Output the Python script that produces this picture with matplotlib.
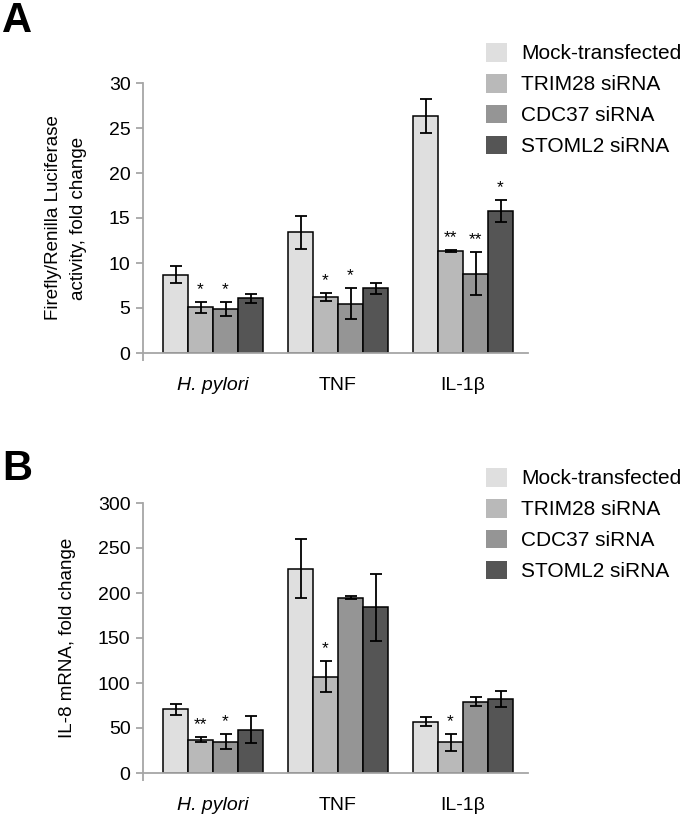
import matplotlib
matplotlib.use("Agg")
import matplotlib.pyplot as plt
from matplotlib.patches import Patch
import numpy as np

plt.rcParams['font.family'] = ['Liberation Sans', 'DejaVu Sans']

CATS = ["H. pylori", "TNF", "IL-1\u03b2"]
GROUPS = ["Mock-transfected", "TRIM28 siRNA", "CDC37 siRNA", "STOML2 siRNA"]
COLORS = ["#dfdfdf", "#b9b9b9", "#959595", "#555555"]

# panel A - luciferase fold change, rows = siRNA groups, cols = stimuli
A_VALS = [[8.7, 13.4, 26.3],
          [5.1, 6.2, 11.3],
          [4.9, 5.5, 8.8],
          [6.1, 7.2, 15.8]]
A_ERR = [[0.95, 1.8, 1.9],
         [0.6, 0.45, 0.1],
         [0.8, 1.7, 2.4],
         [0.5, 0.6, 1.2]]
A_STARS = [["", "", ""],
           ["*", "*", "**"],
           ["*", "*", "**"],
           ["", "", "*"]]

# panel B - IL-8 mRNA fold change
B_VALS = [[71, 227, 57],
          [37, 107, 34],
          [35, 195, 79],
          [48, 184, 82]]
B_ERR = [[6, 33, 5],
         [3, 17, 9],
         [8, 1.5, 5],
         [15, 37, 9]]
B_STARS = [["", "", ""],
           ["**", "*", "*"],
           ["*", "", ""],
           ["", "", ""]]

W, H = 682, 819
fig = plt.figure(figsize=(W/100, H/100), dpi=100)
AX_COL = "#a6a6a6"

def panel(rect, vals, errs, stars, ymax, ystep, ylabel, lab_x, letter, letter_y, leg_y):
    ax = fig.add_axes(rect)
    x = np.arange(len(CATS))
    bw = 0.2
    for i, g in enumerate(GROUPS):
        xs = x + (i - 1.5)*bw
        ax.bar(xs, vals[i], bw, color=COLORS[i], edgecolor='black', linewidth=1.1, zorder=2)
        ax.errorbar(xs, vals[i], yerr=errs[i], fmt='none', ecolor='black',
                    elinewidth=1.3, capsize=4, capthick=1.3, zorder=3)
        for xx, v, e, s in zip(xs, vals[i], errs[i], stars[i]):
            if s:
                ax.annotate(s, xy=(xx, v+e), xytext=(0, 9), textcoords='offset points',
                            ha='center', va='center', fontsize=12.5)
    ax.set_xlim(-0.56, 2.52)
    ax.set_ylim(0, ymax)
    ax.set_yticks(np.arange(0, ymax+1, ystep))
    ax.set_xticks(x)
    ax.set_xticklabels(CATS, fontsize=14)
    ax.get_xticklabels()[0].set_style('italic')
    ax.set_xticks([-0.56], minor=True)
    ax.tick_params(axis='x', which='major', length=0, pad=17)
    ax.tick_params(axis='x', which='minor', length=6, width=1.3, color=AX_COL)
    ax.tick_params(axis='y', labelsize=14, length=5, width=1.3, color=AX_COL, pad=4)
    for sp in ['top', 'right']:
        ax.spines[sp].set_visible(False)
    for sp in ['left', 'bottom']:
        ax.spines[sp].set_color(AX_COL)
        ax.spines[sp].set_linewidth(1.3)
    ax.set_ylabel(ylabel, fontsize=13.5, linespacing=1.6)
    ax.yaxis.set_label_coords(lab_x, 0.5)
    fig.text(2/W, 1 - letter_y/H, letter, fontsize=30, fontweight='bold', va='top', ha='left')
    handles = [Patch(facecolor=c, edgecolor='none') for c in COLORS]
    ax.legend(handles, GROUPS, loc='upper left', bbox_to_anchor=(486/W, 1 - leg_y/H),
              bbox_transform=fig.transFigure, frameon=False, fontsize=15,
              handlelength=1.0, handleheight=1.0, handletextpad=0.7,
              labelspacing=0.5, borderpad=0, borderaxespad=0)
    return ax

panel([143/W, 1-353/H, 385/W, 270/H], A_VALS, A_ERR, A_STARS, 30, 5,
      "Firefly/Renilla Luciferase\nactivity, fold change", -0.145, "A", 1, 43)
panel([143/W, 1-773/H, 385/W, 270/H], B_VALS, B_ERR, B_STARS, 300, 50,
      "IL-8 mRNA, fold change", -0.175, "B", 449, 468)

fig.savefig("out.png", dpi=100)
